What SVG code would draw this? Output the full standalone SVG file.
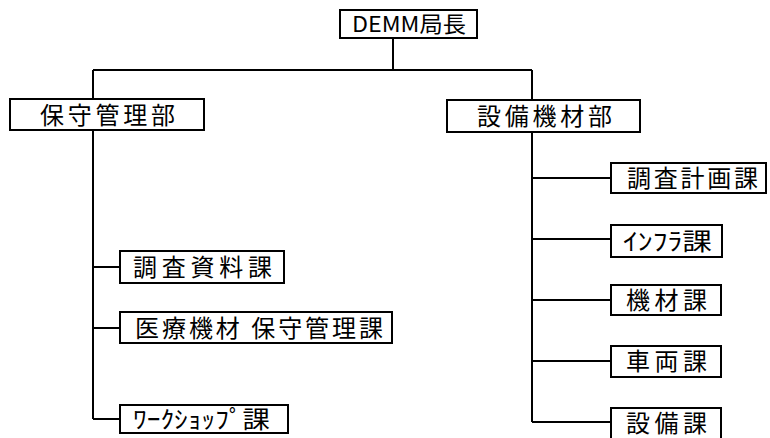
<svg xmlns="http://www.w3.org/2000/svg" width="770" height="438" viewBox="0 0 770 438">
<style>
.box{fill:#fff;stroke:#000;stroke-width:2}
.ln{fill:none;stroke:#000;stroke-width:2}
.t{font-family:"Noto Sans CJK JP","Noto Sans CJK SC",sans-serif;font-size:24px;fill:#000}
.s{font-size:22px}
</style>
<rect width="770" height="438" fill="#fff"/>
<g id="connectors">
<path class="ln" d="M393,38 V70 M93,70 H532 M93,70 V99 M93,130 V419 M93,267 H120 M93,328 H120 M93,419 H120 M532,70 V100 M532,132 V422 M532,178 H611 M532,239 H611 M532,300 H611 M532,361 H611 M532,422 H611"/>
</g>
<g id="n-demm"><rect class="box" x="340" y="10" width="137" height="28"/><text class="t s" x="352" y="32" textLength="114" lengthAdjust="spacingAndGlyphs">DEMM局長</text></g>
<g id="n-hoshu"><rect class="box" x="10" y="99" width="194" height="31"/><text class="t" x="40" y="124" textLength="135" lengthAdjust="spacing">保守管理部</text></g>
<g id="n-setsubi"><rect class="box" x="447" y="100" width="193" height="32"/><text class="t" x="477" y="125" textLength="135" lengthAdjust="spacing">設備機材部</text></g>
<g id="n-chosashiryo"><rect class="box" x="120" y="251" width="164" height="32"/><text class="t" x="133" y="276" textLength="139" lengthAdjust="spacing">調査資料課</text></g>
<g id="n-iryo"><rect class="box" x="120" y="312" width="272" height="31"/><text class="t" x="135" y="337" textLength="248" lengthAdjust="spacing">医療機材 保守管理課</text></g>
<g id="n-workshop"><rect class="box" x="120" y="405" width="168" height="28"/><text class="t" x="133" y="428" textLength="137" lengthAdjust="spacingAndGlyphs">ﾜｰｸｼｮｯﾌﾟ課</text></g>
<g id="n-chosakeikaku"><rect class="box" x="611" y="163" width="155" height="30"/><text class="t" x="627" y="187" textLength="131" lengthAdjust="spacing">調査計画課</text></g>
<g id="n-infra"><rect class="box" x="611" y="225" width="111" height="32"/><text class="t" x="623" y="250" textLength="89" lengthAdjust="spacingAndGlyphs">ｲﾝﾌﾗ課</text></g>
<g id="n-kizai"><rect class="box" x="611" y="285" width="110" height="30"/><text class="t" x="626" y="309" textLength="81" lengthAdjust="spacing">機材課</text></g>
<g id="n-sharyo"><rect class="box" x="611" y="346" width="110" height="31"/><text class="t" x="626" y="370" textLength="81" lengthAdjust="spacing">車両課</text></g>
<g id="n-setsubika"><rect class="box" x="611" y="408" width="110" height="34"/><text class="t" x="626" y="432" textLength="81" lengthAdjust="spacing">設備課</text></g>
</svg>
